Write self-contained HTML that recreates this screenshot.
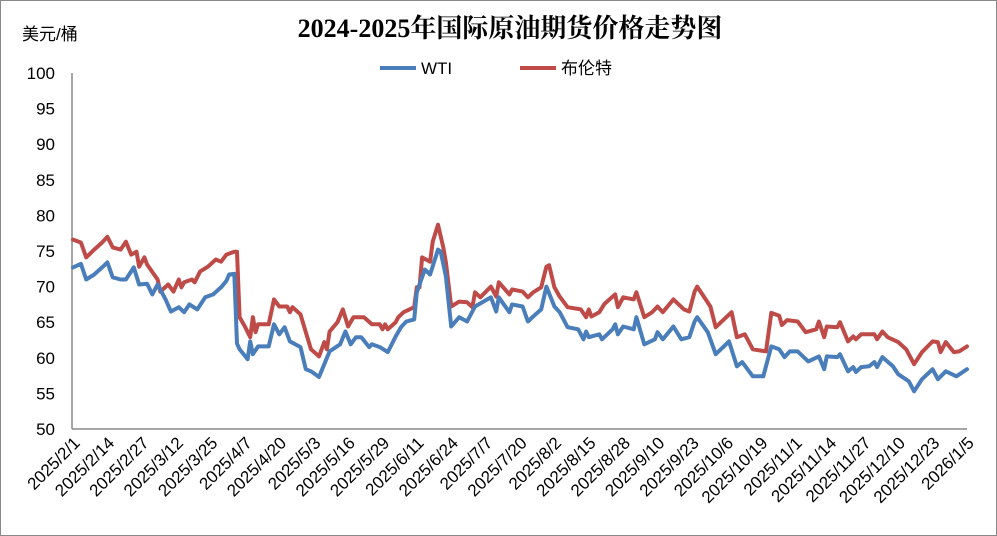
<!DOCTYPE html>
<html><head><meta charset="utf-8"><style>
body{margin:0;background:#fff}
svg{display:block}
text{font-family:"Liberation Sans","Noto Sans CJK SC",sans-serif}
</style></head><body>
<svg id="c" width="997" height="536">
<rect x="0.5" y="0.5" width="996" height="535" fill="#fff" stroke="#888"/>
<text x="510" y="37" text-anchor="middle" font-size="26" font-weight="bold" style="font-family:'Liberation Serif','Noto Serif CJK SC',serif">2024-2025年国际原油期货价格走势图</text>
<text x="22" y="40" font-size="17">美元/桶</text>
<g>
<line x1="380" y1="68" x2="416" y2="68" stroke="#4a7ebb" stroke-width="4"/>
<text x="421" y="74" font-size="17">WTI</text>
<line x1="520" y1="68" x2="556" y2="68" stroke="#be4b48" stroke-width="4"/>
<text x="561" y="74" font-size="17">布伦特</text>
</g>
<g id="axes"></g>
<g id="series"></g>
</svg>
<script>
const yTicks=[50,55,60,65,70,75,80,85,90,95,100];
const xLabels=["2025/2/1","2025/2/14","2025/2/27","2025/3/12","2025/3/25","2025/4/7","2025/4/20","2025/5/3","2025/5/16","2025/5/29","2025/6/11","2025/6/24","2025/7/7","2025/7/20","2025/8/2","2025/8/15","2025/8/28","2025/9/10","2025/9/23","2025/10/6","2025/10/19","2025/11/1","2025/11/14","2025/11/27","2025/12/10","2025/12/23","2026/1/5"];
const wtiDays=[0,3,5,8,11,13,15,18,20,23,25,28,30,32,35,37,40,42,44,47,50,53,56,58,59,61,62,63,66,67,68,70,74,76,78,80,82,86,88,90,93,95,97,101,103,105,107,109,112,113,116,119,122,124,126,129,130,133,135,138,139,141,143,146,149,152,158,160,161,165,166,170,172,174,177,179,182,184,187,191,193,194,195,199,200,202,204,205,206,208,212,213,216,220,221,223,227,230,233,235,236,240,243,248,251,253,257,261,264,267,269,271,274,278,282,284,285,289,290,293,295,296,298,301,303,304,306,310,312,316,318,321,325,327,330,334,338];
const wtiVals=[72.7,73.2,71.0,71.7,72.7,73.4,71.3,71.0,71.0,72.7,70.3,70.4,68.9,70.3,68.2,66.5,67.1,66.4,67.5,66.8,68.5,68.9,69.9,70.8,71.7,71.8,62.0,61.2,59.8,62.3,60.5,61.6,61.6,64.7,63.3,64.3,62.3,61.5,58.4,58.1,57.3,59.1,60.9,61.9,63.7,61.9,62.9,62.9,61.5,61.9,61.5,60.8,63.0,64.3,65.1,65.4,69.2,72.4,71.7,75.2,74.9,71.4,64.4,65.7,65.1,67.2,68.5,66.5,68.5,66.4,67.5,67.2,65.1,65.8,66.8,70.0,67.2,66.4,64.3,64.0,62.6,63.7,62.9,63.3,62.6,63.3,64.0,64.7,63.3,64.4,64.0,65.7,61.9,62.6,63.6,62.6,64.4,62.6,62.9,65.1,65.7,63.6,60.5,62.3,58.8,59.4,57.4,57.4,61.6,61.2,60.1,60.9,60.9,59.5,60.2,58.4,60.2,60.1,60.5,58.1,58.7,58.0,58.7,58.8,59.4,58.7,60.1,58.8,57.7,56.7,55.3,57.0,58.4,57.0,58.1,57.4,58.4];
const brentDays=[0,3,5,8,11,13,15,18,20,22,24,25,27,28,32,33,36,38,40,41,42,45,46,48,51,54,56,58,61,62,63,65,67,68,69,70,74,76,78,81,82,83,86,88,90,93,95,96,97,100,102,104,106,110,113,116,117,118,119,122,123,125,129,130,131,132,135,136,138,140,141,143,146,149,151,152,154,158,160,161,165,166,170,172,174,177,179,180,182,184,187,192,194,195,196,199,201,205,206,208,212,213,216,219,221,223,227,231,233,235,236,241,243,247,249,251,254,257,262,264,267,268,270,274,277,281,282,284,285,289,290,293,295,296,298,303,304,306,308,312,315,318,321,325,327,328,330,333,335,338];
const brentVals=[76.6,76.2,74.1,75.2,76.2,77.0,75.5,75.2,76.3,74.5,74.9,72.8,74.1,73.1,71.0,69.3,70.3,69.3,71.0,69.9,70.6,71.0,70.6,72.1,72.8,73.8,73.5,74.5,74.9,74.9,65.7,64.4,62.9,65.7,63.6,64.7,64.7,68.2,67.2,67.2,66.4,67.1,66.1,63.6,61.2,60.2,62.2,61.2,63.7,65.0,66.8,64.4,65.7,65.7,64.7,64.7,64.0,64.7,64.0,65.0,65.7,66.4,67.1,69.9,69.9,74.1,73.5,76.3,78.7,75.5,73.4,67.2,67.9,67.8,67.1,69.2,68.5,70.0,68.6,70.6,68.9,69.6,69.3,68.5,69.2,69.9,72.8,73.0,69.9,68.6,67.1,66.8,65.7,66.8,65.8,66.4,67.6,68.9,67.1,68.5,68.2,69.2,65.7,66.4,67.2,66.4,68.2,66.8,66.5,69.3,70.0,67.2,64.3,65.7,66.4,62.9,63.3,61.2,60.9,66.3,65.9,64.6,65.3,65.1,63.6,64.0,65.1,62.9,64.4,64.3,65.0,62.3,63.0,62.6,63.3,63.3,62.6,63.7,62.9,62.2,61.2,59.1,60.8,62.3,62.2,60.8,62.2,60.8,60.9,61.6];
const NS="http://www.w3.org/2000/svg";
const X0=73,X1=967,Y0=429,Y1=73,DMAX=338,VMIN=50,VMAX=100;
function xs(d){return X0+(X1-X0)*d/DMAX;}
function ys(v){return Y0-(Y0-Y1)*(v-VMIN)/(VMAX-VMIN);}
const axes=document.getElementById('axes');
function mk(tag,attrs,parent){const e=document.createElementNS(NS,tag);for(const k in attrs)e.setAttribute(k,attrs[k]);parent.appendChild(e);return e;}
yTicks.forEach(v=>{
  const t=mk('text',{x:55,y:ys(v)+6,'text-anchor':'end','font-size':17},axes);
  t.textContent=v;
  
  
});
xLabels.forEach((s,i)=>{
  const x=xs(i*13);
  const t=mk('text',{x:x+8,y:444,'text-anchor':'end','font-size':17,transform:`rotate(-45 ${x+8} 444)`},axes);
  t.textContent=s;
  
  
});
const ya=mk('line',{x1:X0-1,y1:Y1,x2:X0-1,y2:Y0,stroke:'#888','stroke-width':1.5},axes);


const xa=mk('line',{x1:X0-1,y1:Y0,x2:X1,y2:Y0,stroke:'#888','stroke-width':1.5},axes);


const sg=document.getElementById('series');
function line(days,vals,color,name){
  const pts=days.map((d,i)=>xs(d).toFixed(1)+','+ys(vals[i]).toFixed(1)).join(' ');
  const p=mk('polyline',{points:pts,fill:'none',stroke:color,'stroke-width':4,'stroke-linejoin':'round','stroke-linecap':'round'},sg);
  
  
}
line(brentDays,brentVals,'#be4b48','brent-line');
line(wtiDays,wtiVals,'#4a7ebb','wti-line');
</script>
</body></html>
